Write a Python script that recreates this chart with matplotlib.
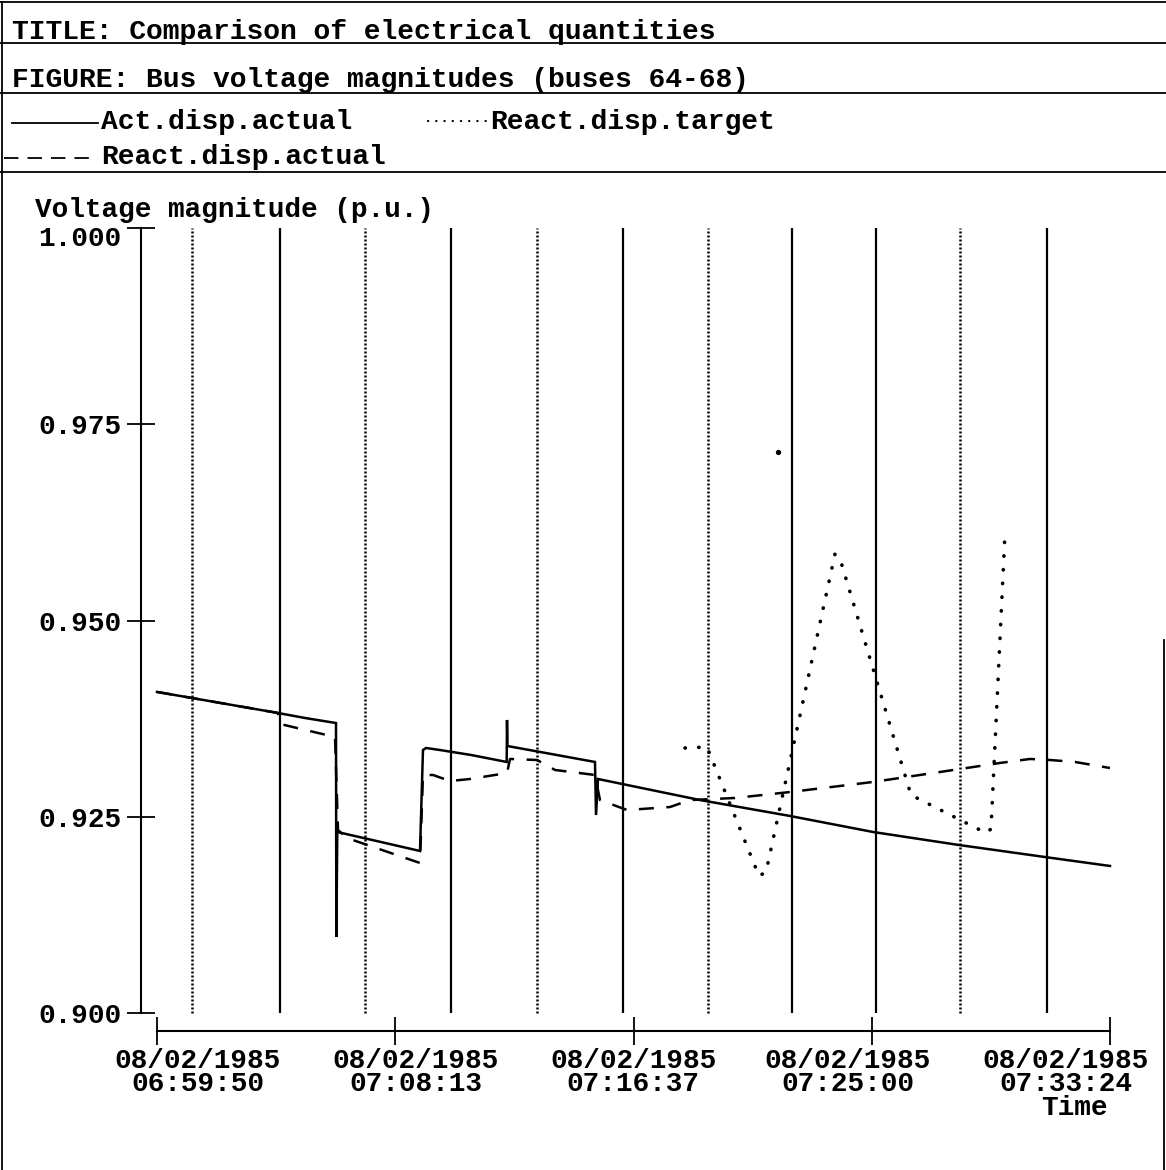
import matplotlib

matplotlib.use("Agg")
import matplotlib.pyplot as plt
from matplotlib.lines import Line2D

# time in seconds after 08/02/1985 06:59:50, voltage in p.u.
act_t = [0, 255.7, 312.8, 378.3, 379.0, 381.0, 555.8, 562.1, 568.5, 598.1, 663.6,
         739.0, 739.7, 740.6, 925.6, 927.8, 932.0, 1147.5, 1337.7, 1513.1, 1694.9,
         1876.6, 2014]
act_v = [0.9409, 0.93822, 0.93758, 0.93694, 0.90968, 0.92306, 0.92064, 0.93350,
         0.93376, 0.93350, 0.93287, 0.93198, 0.93733, 0.93401, 0.93198, 0.92522,
         0.92981, 0.92713, 0.92510, 0.92306, 0.92140, 0.91987, 0.91873]

react_t = [0, 255.7, 259.9, 376.2, 382.5, 401.5, 555.8, 562.1, 583.3, 619.2, 661.5,
           739.7, 746.0, 803.1, 841.1, 925.6, 936.2, 993.3, 1084.1, 1126.4, 1221.5,
           1337.7, 1513.1, 1654.7, 1781.5, 1844.9, 1887.2, 1940.0, 2014]
react_v = [0.9409, 0.93822, 0.93682, 0.93516, 0.92331, 0.92229, 0.91911, 0.93032,
           0.93032, 0.92955, 0.92981, 0.93057, 0.93236, 0.93223, 0.93096, 0.93032,
           0.92713, 0.92586, 0.92624, 0.92713, 0.92739, 0.92815, 0.92943, 0.93070,
           0.93185, 0.93236, 0.93223, 0.93198, 0.93121]

target_t = [1115.8, 1162.3, 1272.2, 1287.0, 1432.8, 1445.5, 1593.4, 1751.9, 1762.5, 1792.1]
target_v = [0.93376, 0.93389, 0.91745, 0.91796, 0.95847, 0.95745, 0.92777, 0.92293,
            0.92344, 0.96115]
target_stray = (1312.4, 0.97147)

# vertical event markers
event_t = [74.0, 259.9, 439.6, 621.3, 803.1, 984.8, 1164.4, 1342.0, 1519.5, 1697.0, 1880.9]
event_solid = [False, True, False, True, False, True, False, True, True, False, True]

xticks = [0, 503, 1007, 1510, 2014]
xtick_labels = ["08/02/1985\n06:59:50", "08/02/1985\n07:08:13", "08/02/1985\n07:16:37",
                "08/02/1985\n07:25:00", "08/02/1985\n07:33:24"]
yticks = [0.900, 0.925, 0.950, 0.975, 1.000]

W, H = 1166, 1170
FONT = "Liberation Mono"


def fx(px):
    return px / W


def fy(py):
    return 1 - py / H


fig = plt.figure(figsize=(W / 100, H / 100), dpi=100)

# header frame
for py in [2, 43, 93, 172]:
    fig.add_artist(Line2D([0, 1], [fy(py), fy(py)], color="black", lw=1.3))
fig.add_artist(Line2D([fx(2), fx(2)], [fy(2), 0], color="black", lw=1.3))
fig.add_artist(Line2D([fx(1164), fx(1164)], [fy(640), 0], color="black", lw=1.3))

fig.text(fx(12), fy(32), "TITLE: Comparison of electrical quantities",
         family=FONT, size=20.2, weight="bold", va="center")
fig.text(fx(12), fy(80), "FIGURE: Bus voltage magnitudes (buses 64-68)",
         family=FONT, size=20.2, weight="bold", va="center")

# legend rows
fig.add_artist(Line2D([fx(12), fx(98)], [fy(123), fy(123)], color="black", lw=1.3))
fig.text(fx(101), fy(122), "Act.disp.actual", family=FONT, size=20.2, weight="bold", va="center")
fig.add_artist(Line2D([fx(428), fx(487)], [fy(121), fy(121)], color="black", lw=1.6,
                      linestyle=(0, (0.1, 3.6)), dash_capstyle="round"))
fig.text(fx(490), fy(122), "React.disp.target", family=FONT, size=20.2, weight="bold", va="center")
fig.add_artist(Line2D([fx(4), fx(98)], [fy(158), fy(158)], color="black", lw=1.3,
                      linestyle=(0, (8, 5))))
fig.text(fx(101), fy(157), "React.disp.actual", family=FONT, size=20.2, weight="bold", va="center")

# plot area
left_px, right_px, top_px, bot_px = 141, 1130, 224, 1031
ax = fig.add_axes([fx(left_px), fy(bot_px), fx(right_px) - fx(left_px), fy(top_px) - fy(bot_px)])
s_per_px = 2014 / (1110 - 157)
v_per_px = 0.1 / (1013 - 228)
ax.set_xlim((left_px - 157) * s_per_px, (right_px - 157) * s_per_px)
ax.set_ylim(0.9 - (bot_px - 1013) * v_per_px, 0.9 + (1013 - top_px) * v_per_px)

for t, solid in zip(event_t, event_solid):
    if solid:
        ax.vlines(t, 0.9, 1.0, color="black", lw=1.6)
    else:
        ax.vlines(t, 0.9, 1.0, color="black", lw=1.8, linestyle=(0, (0.8, 0.8)))

ax.plot(act_t, act_v, color="black", lw=1.8, solid_joinstyle="miter")
ax.plot(react_t, react_v, color="black", lw=1.8, linestyle=(0, (6, 5)))
ax.plot(target_t, target_v, color="black", lw=2.6, linestyle=(0, (0.1, 3.7)),
        dash_capstyle="round")
ax.plot(*target_stray, marker="o", color="black", ms=2.8)

for side in ["top", "right"]:
    ax.spines[side].set_visible(False)
ax.spines["left"].set_bounds(0.9, 1.0)
ax.spines["bottom"].set_bounds(0, 2014)
ax.spines["left"].set_linewidth(1.5)
ax.spines["bottom"].set_linewidth(1.5)

# top label sits a little below its tick in the reference, so it is placed by hand
ax.set_yticks(yticks)
ax.set_yticklabels([f"{v:.3f}" if v < 1.0 else "" for v in yticks])
ax.set_xticks(xticks)
ax.set_xticklabels([""] * len(xticks))
ax.tick_params(axis="both", direction="inout", length=19.5, width=1.3)
ax.tick_params(axis="y", pad=4)
for lbl in ax.get_yticklabels():
    lbl.set_family(FONT)
    lbl.set_weight("bold")
    lbl.set_fontsize(20)
fig.text(fx(121), fy(239), f"{yticks[-1]:.3f}", family=FONT, size=20, weight="bold",
         ha="right", va="center")

# date labels are spread evenly under the axis, not centred on each tick
for cx, lab in zip([198, 416, 633, 848, 1066], xtick_labels):
    fig.text(fx(cx), fy(1048), lab, family=FONT, size=20, weight="bold",
             ha="center", va="top", linespacing=0.85)

fig.text(fx(35), fy(210), "Voltage magnitude (p.u.)", family=FONT, size=20,
         weight="bold", va="center")
fig.text(fx(1108), fy(1108), "Time", family=FONT, size=20, weight="bold",
         va="center", ha="right")

fig.savefig("out.png", dpi=100)
